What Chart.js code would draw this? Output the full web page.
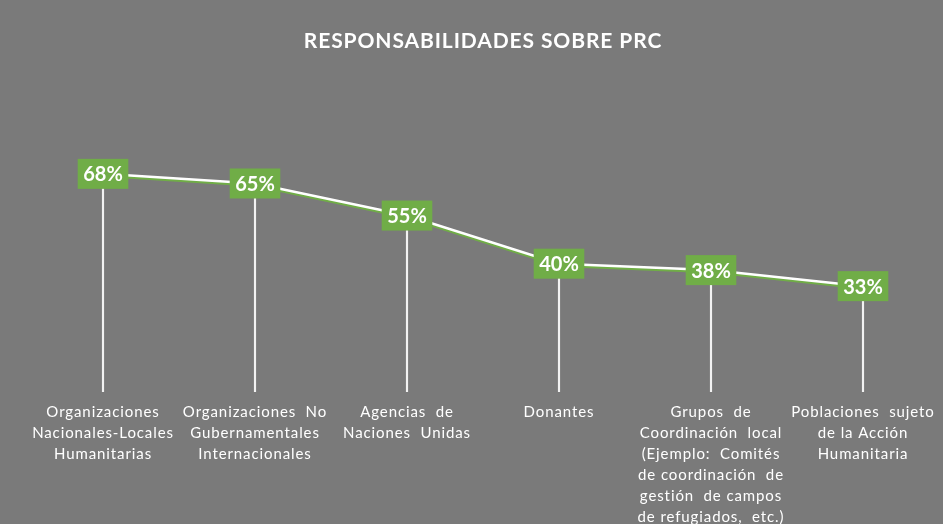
<!DOCTYPE html>
<html>
<head>
<meta charset="utf-8">
<script src="https://cdn.jsdelivr.net/npm/chart.js@4.4.0/dist/chart.umd.min.js"></script>
<style>
    html, body { margin: 0; padding: 0; overflow: hidden; background: #7a7a7a; }
    #wrap { width: 943px; height: 530px; position: relative; }
</style>
</head>
<body>
<div id="wrap"><canvas id="prcChart"></canvas></div>
<script>
const categories = [
    ['Organizaciones', 'Nacionales-Locales', 'Humanitarias'],
    ['Organizaciones  No', 'Gubernamentales', 'Internacionales'],
    ['Agencias  de', 'Naciones  Unidas'],
    ['Donantes'],
    ['Grupos  de', 'Coordinación  local', '(Ejemplo:  Comités', 'de coordinación  de', 'gestión  de campos', 'de refugiados,  etc.)'],
    ['Poblaciones  sujeto', 'de la Acción', 'Humanitaria']
];
const percentages = [68, 65, 55, 40, 38, 33];

const GREEN = '#70ad47';
const FONT = 'Lato, "Open Sans", sans-serif';

// wider tracking for title and category text, normal for the value boxes
const tracking = {
    id: 'tracking',
    beforeDraw(chart) {
        chart.ctx.letterSpacing = '0.9px';
    },
    beforeDatasetsDraw(chart) {
        chart.ctx.letterSpacing = '0px';
    }
};

// green shadow under the white line
const lineShadow = {
    id: 'lineShadow',
    beforeDatasetDraw(chart, args) {
        if (args.meta.type !== 'line') return;
        const ctx = chart.ctx;
        ctx.save();
        ctx.shadowColor = GREEN;
        ctx.shadowOffsetY = 2;
        ctx.shadowBlur = 0;
    },
    afterDatasetDraw(chart, args) {
        if (args.meta.type !== 'line') return;
        chart.ctx.restore();
    }
};

// green value boxes on each point
const valueBoxes = {
    id: 'valueBoxes',
    afterDatasetsDraw(chart) {
        const ctx = chart.ctx;
        const ds = chart.data.datasets[0];
        const meta = chart.getDatasetMeta(0);
        ctx.save();
        ctx.letterSpacing = '0px';
        ctx.font = 'bold 20px ' + FONT;
        ctx.textAlign = 'center';
        ctx.textBaseline = 'middle';
        meta.data.forEach((pt, i) => {
            const txt = ds.data[i] + '%';
            const w = ctx.measureText(txt).width + 11;
            const h = 30;
            ctx.fillStyle = GREEN;
            ctx.fillRect(pt.x - w / 2, pt.y - h / 2, w, h);
            ctx.fillStyle = '#ffffff';
            ctx.fillText(txt, pt.x, pt.y + 1);
        });
        ctx.restore();
    }
};

new Chart(document.getElementById('prcChart'), {
    data: {
        labels: categories,
        datasets: [
            {
                type: 'line',
                data: percentages,
                borderColor: '#ffffff',
                borderWidth: 2.5,
                pointRadius: 0,
                tension: 0,
                order: 0
            },
            {
                // drop lines from each point to the axis
                type: 'bar',
                data: percentages,
                backgroundColor: '#f2f2f2',
                barThickness: 1.5,
                order: 1
            }
        ]
    },
    options: {
        responsive: true,
        maintainAspectRatio: false,
        animation: false,
        layout: { padding: { left: 27, right: 4, top: 0, bottom: 0 } },
        plugins: {
            legend: { display: false },
            tooltip: { enabled: false },
            title: {
                display: true,
                text: 'RESPONSABILIDADES SOBRE PRC',
                color: '#ffffff',
                font: { family: FONT, size: 21, weight: 'bold' },
                padding: { top: 29, bottom: 17 }
            }
        },
        scales: {
            x: {
                grid: { display: false },
                border: { display: false },
                ticks: {
                    color: '#ffffff',
                    font: { family: FONT, size: 15, lineHeight: 1.4 },
                    padding: 2,
                    maxRotation: 0,
                    autoSkip: false
                }
            },
            y: {
                display: false,
                min: 0,
                max: 100
            }
        }
    },
    plugins: [tracking, lineShadow, valueBoxes]
});
</script>
</body>
</html>
